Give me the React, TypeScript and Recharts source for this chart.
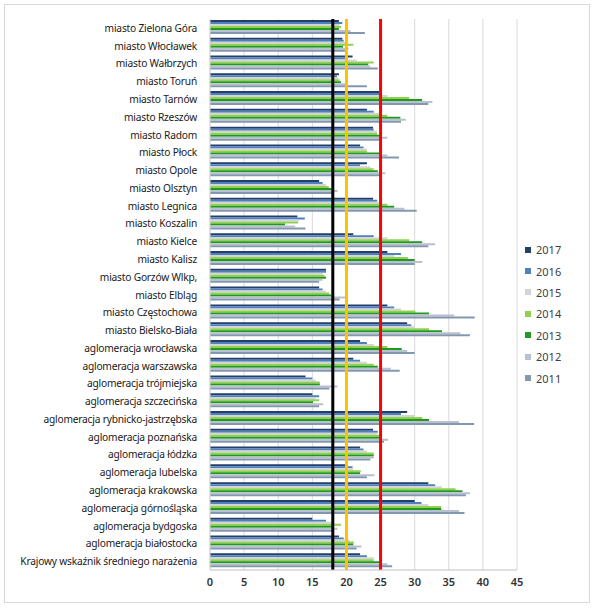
import React from "react";
import {
  BarChart,
  Bar,
  XAxis,
  YAxis,
  CartesianGrid,
  ReferenceLine,
} from "recharts";

const categories = [
  "miasto Zielona Góra",
  "miasto Włocławek",
  "miasto Wałbrzych",
  "miasto Toruń",
  "miasto Tarnów",
  "miasto Rzeszów",
  "miasto Radom",
  "miasto Płock",
  "miasto Opole",
  "miasto Olsztyn",
  "miasto Legnica",
  "miasto Koszalin",
  "miasto Kielce",
  "miasto Kalisz",
  "miasto Gorzów Wlkp,",
  "miasto Elbląg",
  "miasto Częstochowa",
  "miasto Bielsko-Biała",
  "aglomeracja wrocławska",
  "aglomeracja warszawska",
  "aglomeracja trójmiejska",
  "aglomeracja szczecińska",
  "aglomeracja rybnicko-jastrzębska",
  "aglomeracja poznańska",
  "aglomeracja łódzka",
  "aglomeracja lubelska",
  "aglomeracja krakowska",
  "aglomeracja górnośląska",
  "aglomeracja bydgoska",
  "aglomeracja białostocka",
  "Krajowy wskaźnik średniego narażenia",
];

const y2017 = [18.9, 19.4, 20.9, 18.9, 24.8, 23.0, 23.9, 22.0, 23.0, 16.0, 23.9, 12.8, 21.0, 26.0, 17.0, 16.0, 26.0, 28.9, 22.0, 21.0, 14.0, 15.0, 28.9, 23.9, 22.0, 19.9, 32.0, 30.0, 15.0, 18.9, 22.0];
const y2016 = [19.4, 19.6, 20.2, 18.6, 25.0, 24.0, 24.0, 22.5, 22.0, 16.5, 24.5, 13.9, 24.0, 28.0, 17.0, 16.5, 27.0, 29.5, 23.0, 22.0, 15.0, 16.0, 28.0, 24.6, 22.5, 20.9, 33.0, 31.0, 17.0, 19.6, 23.0];
const y2015 = [19.0, 20.0, 21.5, 18.8, 26.0, 25.0, 24.5, 23.0, 23.5, 17.0, 25.0, 13.0, 26.0, 27.0, 16.5, 17.0, 28.0, 30.0, 24.0, 23.0, 15.5, 15.5, 30.0, 24.5, 23.0, 21.0, 34.0, 32.0, 18.0, 20.5, 24.0];
const y2014 = [19.2, 21.0, 24.0, 19.0, 29.2, 26.0, 24.5, 23.0, 24.0, 17.4, 26.0, 12.9, 29.2, 29.0, 16.8, 17.5, 30.1, 32.1, 26.0, 24.0, 16.1, 16.0, 31.1, 25.0, 24.0, 22.1, 36.0, 33.9, 19.2, 21.1, 24.0];
const y2013 = [18.9, 19.5, 23.2, 19.2, 31.1, 27.9, 25.0, 24.8, 24.6, 17.8, 27.0, 11.0, 31.1, 30.0, 17.0, 17.8, 32.1, 34.0, 28.1, 24.6, 16.1, 15.1, 32.1, 25.1, 24.0, 22.0, 37.0, 33.9, 18.0, 21.0, 25.0];
const y2012 = [20.6, 20.3, 23.5, 20.0, 32.6, 28.7, 26.0, 26.0, 25.7, 18.7, 28.5, 12.5, 33.0, 31.1, 16.5, 20.1, 35.8, 36.7, 28.9, 26.5, 18.7, 16.6, 36.5, 26.1, 24.0, 24.1, 38.1, 36.5, 18.7, 22.2, 26.0];
const y2011 = [22.7, 19.8, 24.6, 23.0, 32.0, 28.0, 25.0, 27.7, 25.0, 18.0, 30.3, 14.0, 32.0, 30.0, 16.0, 19.0, 38.8, 38.1, 30.0, 27.8, 17.5, 16.0, 38.7, 25.5, 23.5, 23.0, 37.5, 37.3, 18.0, 21.5, 26.7];

const xTicks = [0, 5, 10, 15, 20, 25, 30, 35, 40, 45];

const series = [
  { key: "2017", color: "#243f6b" },
  { key: "2016", color: "#4f81bd" },
  { key: "2015", color: "#d4d4d4" },
  { key: "2014", color: "#92d050" },
  { key: "2013", color: "#1e9a1e" },
  { key: "2012", color: "#b9c0ce" },
  { key: "2011", color: "#8497b0" },
];

const values: Record<string, number[]> = {
  "2017": y2017,
  "2016": y2016,
  "2015": y2015,
  "2014": y2014,
  "2013": y2013,
  "2012": y2012,
  "2011": y2011,
};

const data = categories.map((name, i) => {
  const row: Record<string, string | number> = { name };
  series.forEach((s) => {
    row[s.key] = values[s.key][i];
  });
  return row;
});

const FONT = "'Noto Sans', sans-serif";

// single-line category label (no wrapping)
function CatTick(props: any) {
  const { x, y, payload } = props;
  return (
    <text
      x={x - 5}
      y={y}
      dy={4}
      textAnchor="end"
      fontSize={10.2}
      fontFamily={FONT}
      fill="#1a1a1a"
      letterSpacing={-0.2}
    >
      {payload.value}
    </text>
  );
}

function LegendBox() {
  return (
    <div
      style={{
        position: "absolute",
        left: 525,
        top: 239,
        fontFamily: FONT,
        fontSize: 11,
        color: "#404040",
      }}
    >
      {series.map((s) => (
        <div key={s.key} style={{ display: "flex", alignItems: "center", height: 21.4 }}>
          <div style={{ width: 6, height: 6, background: s.color, marginRight: 5 }} />
          <span>{s.key}</span>
        </div>
      ))}
    </div>
  );
}

export default function App() {
  return (
    <div style={{ position: "absolute", left: 0, top: 0, width: 595, height: 611, background: "#fff" }}>
      <div
        style={{
          position: "absolute",
          left: 4,
          top: 4,
          width: 584,
          height: 597,
          border: "1px solid #d9d9d9",
        }}
      />
      <div style={{ position: "absolute", left: 0, top: 0 }}>
        <BarChart
          width={595}
          height={611}
          data={data}
          layout="vertical"
          margin={{ top: 19, right: 78, left: 0, bottom: 11 }}
          barCategoryGap={1}
          barGap={0}
        >
          <CartesianGrid horizontal={false} stroke="#d9d9d9" />
          <XAxis
            type="number"
            domain={[0, 45]}
            ticks={xTicks}
            interval={0}
            tickLine={false}
            axisLine={{ stroke: "#bfbfbf" }}
            height={30}
            tick={{ fontSize: 11, fill: "#333", fontFamily: FONT, fontWeight: 600 }}
          />
          <XAxis
            xAxisId="top"
            orientation="top"
            type="number"
            domain={[0, 45]}
            height={0}
            tick={false}
            tickLine={false}
            axisLine={{ stroke: "#d9d9d9" }}
          />
          <YAxis
            type="category"
            dataKey="name"
            width={210}
            interval={0}
            tickLine={false}
            axisLine={{ stroke: "#d9d9d9" }}
            tick={<CatTick />}
          />
          {series.map((s) => (
            <Bar key={s.key} dataKey={s.key} name={s.key} fill={s.color} isAnimationActive={false} />
          ))}
          <ReferenceLine x={18} stroke="#000" strokeWidth={3} />
          <ReferenceLine x={20} stroke="#ffc000" strokeWidth={3} />
          <ReferenceLine x={25} stroke="#ff0000" strokeWidth={3} />
        </BarChart>
      </div>
      <LegendBox />
    </div>
  );
}
